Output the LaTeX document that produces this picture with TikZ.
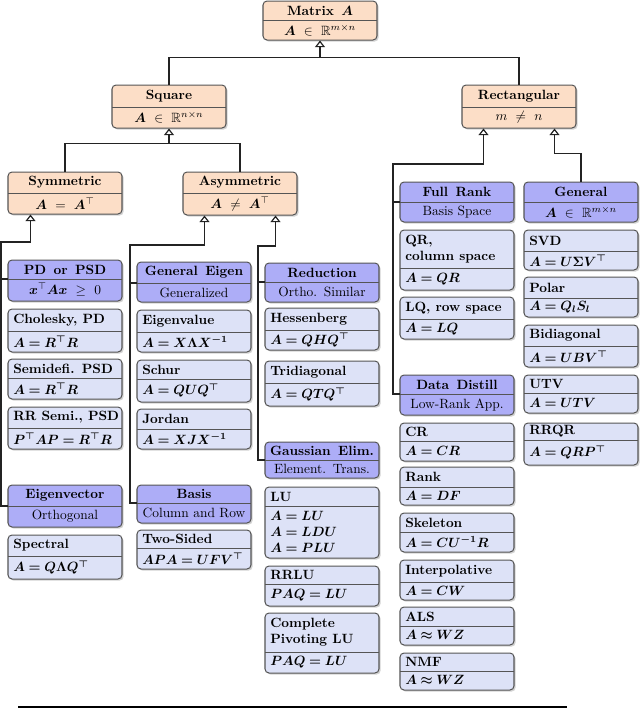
\documentclass[tikz,border=0pt]{standalone}
\usepackage{amsmath,amssymb,bm}
\usetikzlibrary{shadows,arrows.meta,calc}
\definecolor{orfill}{RGB}{252,222,199}
\definecolor{pufill}{RGB}{173,173,247}
\definecolor{lefill}{RGB}{221,226,247}
\definecolor{bordc}{RGB}{85,85,85}
\definecolor{linec}{RGB}{35,35,35}
\def\px{0.745pt}
\def\ws{\ \,}
\tikzset{
 boxbase/.style={draw=bordc, line width=0.75pt, rounded corners=3pt,
   drop shadow={shadow xshift=1.2pt,shadow yshift=-1.2pt,opacity=0.35}},
 stOrange/.style={boxbase, fill=orfill},
 stPurple/.style={boxbase, fill=pufill},
 stLeaf/.style={boxbase, fill=lefill},
 divline/.style={draw=bordc, line width=0.75pt},
 conn/.style={draw=linec, line width=0.9pt},
 arr/.style={-{Triangle[open,width=7.5pt,length=5pt]}},
}
\newcommand{\catbox}[8]{%
 \node[#6, minimum width={114*\px}, minimum height={(#5-#3)*\px}, inner sep=0pt] (#1) at ({#2+57},{(#3+#5)/2}) {};
 \draw[divline] ({#2},#4) -- ({#2+114},#4);
 \coordinate (#1-d) at ({#2},#4);
 \node[font=\bfseries, inner sep=0pt, align=center] (#1-t) at ({#2+57},{(#3+#4)/2}) {#7};
 \node[inner sep=0pt, align=center] (#1-b) at ({#2+57},{(#4+#5)/2}) {#8};
}
\newcommand{\leafbox}[8]{%
 \node[#6, minimum width={114*\px}, minimum height={(#5-#3)*\px}, inner sep=0pt] (#1) at ({#2+57},{(#3+#5)/2}) {};
 \draw[divline] ({#2},#4) -- ({#2+114},#4);
 \coordinate (#1-d) at ({#2},#4);
 \node[font=\bfseries, inner sep=0pt, anchor=west, align=left] (#1-t) at ({#2+5},{(#3+#4)/2}) {#7};
 \node[inner sep=0pt, anchor=west, align=left] (#1-b) at ({#2+5},{(#4+#5)/2}) {#8};
}
\begin{document}
\begin{tikzpicture}[x=0.745pt,y=-0.745pt]
\useasboundingbox (0,0) rectangle (640,708);
% header level
\catbox{mat}{263}{1}{20}{40}{stOrange}{Matrix\ws$\bm{A}$}{$\bm{A} \ \in\ \mathbb{R}^{m\times n}$}
\catbox{sq}{112}{85}{107}{128}{stOrange}{Square}{$\bm{A} \ \in\ \mathbb{R}^{n\times n}$}
\catbox{rect}{462}{85}{107}{128}{stOrange}{Rectangular}{$m \ \neq\ n$}
\catbox{sym}{8}{172}{193}{214}{stOrange}{Symmetric}{$\bm{A} \ =\ \bm{A}^{\top}$}
\catbox{asym}{183}{172}{193}{215}{stOrange}{Asymmetric}{$\bm{A} \ \neq\ \bm{A}^{\top}$}
% column 1
\catbox{pd}{8}{260}{279}{301}{stPurple}{PD\ws or\ws PSD}{$\bm{x}^{\top}\bm{A}\bm{x} \ \geq\ 0$}
\leafbox{chol}{8}{309}{331}{352}{stLeaf}{Cholesky, PD}{$\bm{A = R^{\top} R}$}
\leafbox{semi}{8}{359}{378}{399}{stLeaf}{Semidefi.\ws PSD}{$\bm{A = R^{\top} R}$}
\leafbox{rrsemi}{8}{407}{428}{449}{stLeaf}{RR Semi., PSD}{$\bm{P^{\top} A P = R^{\top} R}$}
\catbox{evec}{8}{485}{506}{527}{stPurple}{Eigenvector}{Orthogonal}
\leafbox{spec}{8}{535}{556}{579}{stLeaf}{Spectral}{$\bm{A = Q \Lambda Q^{\top}}$}
% column 2
\catbox{ge}{137}{262}{283}{302}{stPurple}{General\ws Eigen}{Generalized}
\leafbox{eigval}{137}{310}{332}{352}{stLeaf}{Eigenvalue}{$\bm{A = X \Lambda X^{-1}}$}
\leafbox{schur}{137}{360}{379}{402}{stLeaf}{Schur}{$\bm{A = Q U Q^{\top}}$}
\leafbox{jordan}{137}{409}{429}{449}{stLeaf}{Jordan}{$\bm{A = X J X^{-1}}$}
\catbox{basis}{137}{485}{503}{523}{stPurple}{Basis}{Column and Row}
\leafbox{twos}{137}{530}{548}{569}{stLeaf}{Two-Sided}{$\bm{A P A = U F V^{\top}}$}
% column 3
\catbox{red}{265}{263}{282}{302}{stPurple}{Reduction}{Ortho.\ws Similar}
\leafbox{hess}{265}{308}{330}{350}{stLeaf}{Hessenberg}{$\bm{A = Q H Q^{\top}}$}
\leafbox{tri}{265}{361}{383}{406}{stLeaf}{Tridiagonal}{$\bm{A = Q T Q^{\top}}$}
\catbox{gauss}{265}{442}{460}{478}{stPurple}{Gaussian\ws Elim.}{Element.\ws Trans.}
\leafbox{lu}{265}{487}{506}{558}{stLeaf}{LU}{$\bm{A = L U}$\\$\bm{A = L D U}$\\$\bm{A = P L U}$}
\leafbox{rrlu}{265}{566}{584}{606}{stLeaf}{RRLU}{$\bm{P A Q = L U}$}
\leafbox{cplu}{265}{613}{652}{673}{stLeaf}{Complete\\Pivoting LU}{$\bm{P A Q = L U}$}
% column 4
\catbox{fr}{400}{182}{202}{222}{stPurple}{Full\ws Rank}{Basis Space}
\leafbox{qr}{400}{230}{268}{290}{stLeaf}{QR,\\column space}{$\bm{A = Q R}$}
\leafbox{lq}{400}{297}{319}{339}{stLeaf}{LQ, row space}{$\bm{A = L Q}$}
\catbox{dd}{400}{375}{394}{415}{stPurple}{Data\ws Distill}{Low-Rank App.}
\leafbox{cr}{400}{423}{441}{461}{stLeaf}{CR}{$\bm{A = C R}$}
\leafbox{rank}{400}{467}{487}{505}{stLeaf}{Rank}{$\bm{A = D F}$}
\leafbox{skel}{400}{513}{532}{552}{stLeaf}{Skeleton}{$\bm{A = C U^{-1} R}$}
\leafbox{interp}{400}{560}{582}{600}{stLeaf}{Interpolative}{$\bm{A = C W}$}
\leafbox{als}{400}{607}{626}{645}{stLeaf}{ALS}{$\bm{A \approx W Z}$}
\leafbox{nmf}{400}{653}{671}{690}{stLeaf}{NMF}{$\bm{A \approx W Z}$}
% column 5
\catbox{gen}{524}{182}{202}{222}{stPurple}{General}{$\bm{A} \ \in\ \mathbb{R}^{m\times n}$}
\leafbox{svd}{524}{230}{251}{270}{stLeaf}{SVD}{$\bm{A = U \Sigma V^{\top}}$}
\leafbox{polar}{524}{277}{298}{317}{stLeaf}{Polar}{$\bm{A = Q_l S_l}$}
\leafbox{bidiag}{524}{325}{346}{367}{stLeaf}{Bidiagonal}{$\bm{A = U B V^{\top}}$}
\leafbox{utv}{524}{375}{393}{413}{stLeaf}{UTV}{$\bm{A = U T V}$}
\leafbox{rrqr}{524}{423}{440}{465}{stLeaf}{RRQR}{$\bm{A = Q R P^{\top}}$}
% connectors
\coordinate (j0) at ($(mat.south)+(0,17)$);
\draw[conn] (sq.north) |- (j0) -| (rect.north);
\draw[conn,arr] (j0) -- (mat.south);
\coordinate (j1) at ($(sq.south)+(0,15)$);
\draw[conn] (sym.north) |- (j1) -| (asym.north);
\draw[conn,arr] (j1) -- (sq.south);
% symmetric
\coordinate (sa) at ($(sym.south west)+(23,0)$);
\coordinate (sb) at (1,242);
\draw[conn,arr] (evec-d) -| (sb) -| (sa);
\draw[conn] (pd-d) -- (pd-d -| sb);
% asymmetric
\coordinate (aa1) at ($(asym.south west)+(22,0)$);
\coordinate (aa2) at ($(asym.south east)+(-22,0)$);
\coordinate (ab1) at (130,245);
\coordinate (ab2) at (258,246);
\draw[conn,arr] (basis-d) -| (ab1) -| (aa1);
\draw[conn] (ge-d) -- (ge-d -| ab1);
\draw[conn,arr] (gauss-d) -| (ab2) -| (aa2);
\draw[conn] (red-d) -- (red-d -| ab2);
% rectangular
\coordinate (ra1) at ($(rect.south west)+(22,0)$);
\coordinate (ra2) at ($(rect.south east)+(-22,0)$);
\coordinate (rb1) at (393,164);
\draw[conn,arr] (dd-d) -| (rb1) -| (ra1);
\draw[conn] (fr-d) -- (fr-d -| rb1);
\draw[conn,arr] (gen.north) |- ($(ra2)+(0,25)$) -- (ra2);
% bottom rule
\draw[line width=1.1pt, black] (18,707) -- (567,707);
\end{tikzpicture}
\end{document}
